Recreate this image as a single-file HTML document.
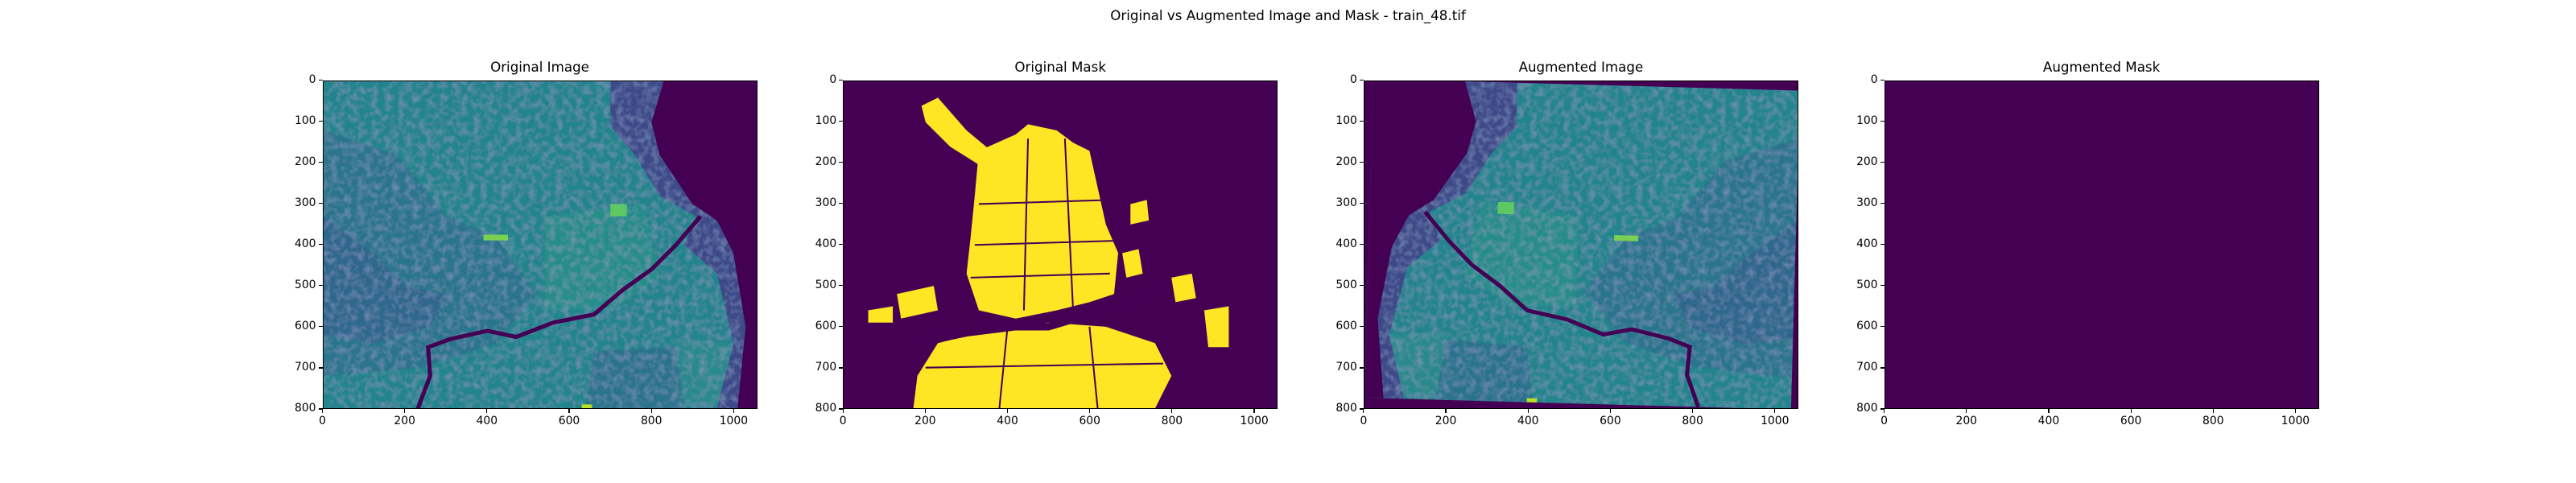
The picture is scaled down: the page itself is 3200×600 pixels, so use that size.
<!DOCTYPE html>
<html><head><meta charset="utf-8">
<style>
html,body{margin:0;padding:0;background:#fff;}
#root{position:relative;width:3200px;height:600px;overflow:hidden;font-family:"DejaVu Sans","Liberation Sans",sans-serif;color:#000;}
.sup{position:absolute;left:0;width:3200px;top:9px;text-align:center;font-size:16.7px;}
.title{position:absolute;font-size:16.7px;text-align:center;width:540px;top:73px;}
.ax{position:absolute;width:540px;height:408.5px;box-sizing:border-box;border:1.3px solid #000;overflow:hidden;}
.ax svg{position:absolute;left:0;top:0;width:100%;height:100%;}
.tick{position:absolute;background:#000;}
.tl{position:absolute;font-size:13.9px;white-space:nowrap;}
</style></head>
<body>
<div id="root">
<div class="sup">Original vs Augmented Image and Mask - train_48.tif</div>

<svg width="0" height="0" style="position:absolute">
<defs>
<filter id="tex" x="0" y="0" width="100%" height="100%">
<feTurbulence type="fractalNoise" baseFrequency="0.06" numOctaves="2" seed="4" result="n"/>
<feColorMatrix in="n" type="matrix" values="0 0 0 0 0.23  0 0 0 0 0.32  0 0 0 0 0.55  0 0 0 1.2 -0.5" result="c"/>
<feComposite in="c" in2="SourceGraphic" operator="atop"/>
</filter>
<g id="sat">
<rect x="0" y="0" width="1057" height="800" fill="#23848d"/>
<path d="M0 120 L180 180 L300 330 L420 380 L520 520 L420 640 L240 700 L0 720 Z" fill="#2f6b8e" opacity="0.6"/>
<path d="M0 330 L120 420 L200 500 L300 520 L260 600 L120 640 L0 620 Z" fill="#34598b" opacity="0.5"/>
<path d="M540 330 L780 300 L820 480 L700 560 L540 560 Z" fill="#2a9288" opacity="0.6"/>
<path d="M860 630 L1000 640 L1000 780 L840 800 Z" fill="#2c8c8b" opacity="0.7"/>
<path d="M660 660 L860 650 L880 800 L640 800 Z" fill="#31678e" opacity="0.6"/>
<g id="seaA">
<path d="M700 0 L1057 0 L1057 800 L960 800 L1000 640 L960 470 L880 400 L910 330 L820 280 L760 180 L700 110 Z" fill="#3e4a89"/>
</g>
</g>
<g id="sea">
<path d="M830 0 L1057 0 L1057 800 L1010 800 L1030 600 L1000 420 L960 340 L900 300 L860 240 L820 180 L800 100 Z" fill="#440154"/>
<path d="M230 800 L260 720 L255 650 L310 630 L400 610 L470 625 L560 590 L660 570 L730 510 L800 460 L860 400 L920 330" fill="none" stroke="#440154" stroke-width="10"/>
<rect x="390" y="375" width="60" height="14" fill="#7ad151"/>
<rect x="700" y="300" width="40" height="30" fill="#5ec962"/>
<rect x="630" y="790" width="25" height="10" fill="#bddf26"/>
</g>
</defs>
</svg>

<div class="title" style="left:400.5px">Original Image</div>
<div class="title" style="left:1047.2px">Original Mask</div>
<div class="title" style="left:1693.9px">Augmented Image</div>
<div class="title" style="left:2340.6px">Augmented Mask</div>

<div class="ax" style="left:400.5px;top:99.5px">
<svg viewBox="0 0 1057 800" preserveAspectRatio="none"><g filter="url(#tex)"><use href="#sat"/></g><use href="#sea"/></svg>
</div>

<div class="ax" style="left:1047.2px;top:99.5px">
<svg viewBox="0 0 1057 800" preserveAspectRatio="none">
<rect width="1057" height="800" fill="#440154"/>
<g fill="#fde725">
<path d="M330 170 L420 130 L450 105 L520 120 L560 150 L600 170 L620 260 L640 350 L670 420 L660 520 L600 540 L520 560 L420 580 L330 560 L300 470 L310 380 L320 280 Z"/>
<path d="M230 640 L350 610 L500 590 L640 600 L760 640 L800 720 L760 800 L170 800 L180 720 Z"/>
<path d="M190 60 L230 40 L300 120 L360 170 L340 210 L260 160 L200 100 Z"/>
<path d="M800 480 L850 470 L860 530 L810 540 Z"/>
<path d="M880 560 L940 550 L940 650 L890 650 Z"/>
<path d="M700 300 L740 290 L745 340 L700 350 Z"/>
<path d="M60 560 L120 550 L120 590 L60 590 Z"/>
<path d="M130 520 L220 500 L230 560 L140 580 Z"/>
<path d="M680 420 L720 410 L730 470 L690 480 Z"/>
</g>
<g stroke="#440154" stroke-width="4" fill="none">
<path d="M330 300 L650 290 M320 400 L660 390 M310 480 L650 470 M450 140 L440 560 M540 140 L560 560 M200 700 L780 690 M400 600 L380 800 M600 600 L620 800"/>
</g>
<path d="M180 640 L300 615 L420 600 L500 600 L600 570 L700 540 L790 500" fill="none" stroke="#440154" stroke-width="18"/>
</svg>
</div>

<div class="ax" style="left:1693.9px;top:99.5px">
<svg viewBox="0 0 1057 800" preserveAspectRatio="none">
<rect width="1057" height="800" fill="#440154"/>
<g transform="rotate(1.6 528 400) translate(1052 8) scale(-0.985 0.975)"><g filter="url(#tex)"><use href="#sat"/></g><use href="#sea"/></g>
</svg>
</div>

<div class="ax" style="left:2340.6px;top:99.5px;background:#440154"></div>

<div id="ticks"></div>
</div>
<script>
const axLefts=[400.5,1047.2,1693.9,2340.6];
const axTop=99.5, axW=540, axH=408.5;
const xMax=1057, yMax=800;
const xTicks=[0,200,400,600,800,1000];
const yTicks=[0,100,200,300,400,500,600,700,800];
const root=document.getElementById('root');
function sx(v){return v/xMax*axW;}
function sy(v){return v/yMax*axH;}
axLefts.forEach((L,i)=>{
  xTicks.forEach(t=>{
    const x=L+sx(t);
    const tk=document.createElement('div');tk.className='tick';
    
    
    tk.style.cssText=`left:${x-0.6}px;top:${axTop+axH}px;width:1.2px;height:5px`;
    root.appendChild(tk);
    const lb=document.createElement('div');lb.className='tl';
    
    
    lb.textContent=t;
    lb.style.left=(x-40)+'px';lb.style.width='80px';lb.style.textAlign='center';
    lb.style.top=(axTop+axH+7)+'px';
    root.appendChild(lb);
  });
  yTicks.forEach(t=>{
    const y=axTop+sy(t);
    const tk=document.createElement('div');tk.className='tick';
    
    
    tk.style.cssText=`left:${L-5}px;top:${y-0.6}px;width:5px;height:1.2px`;
    root.appendChild(tk);
    const lb=document.createElement('div');lb.className='tl';
    
    
    lb.textContent=t;
    lb.style.left=(L-88)+'px';lb.style.width='80px';lb.style.textAlign='right';
    lb.style.top=(y-9)+'px';
    root.appendChild(lb);
  });
});
</script>
</body></html>
